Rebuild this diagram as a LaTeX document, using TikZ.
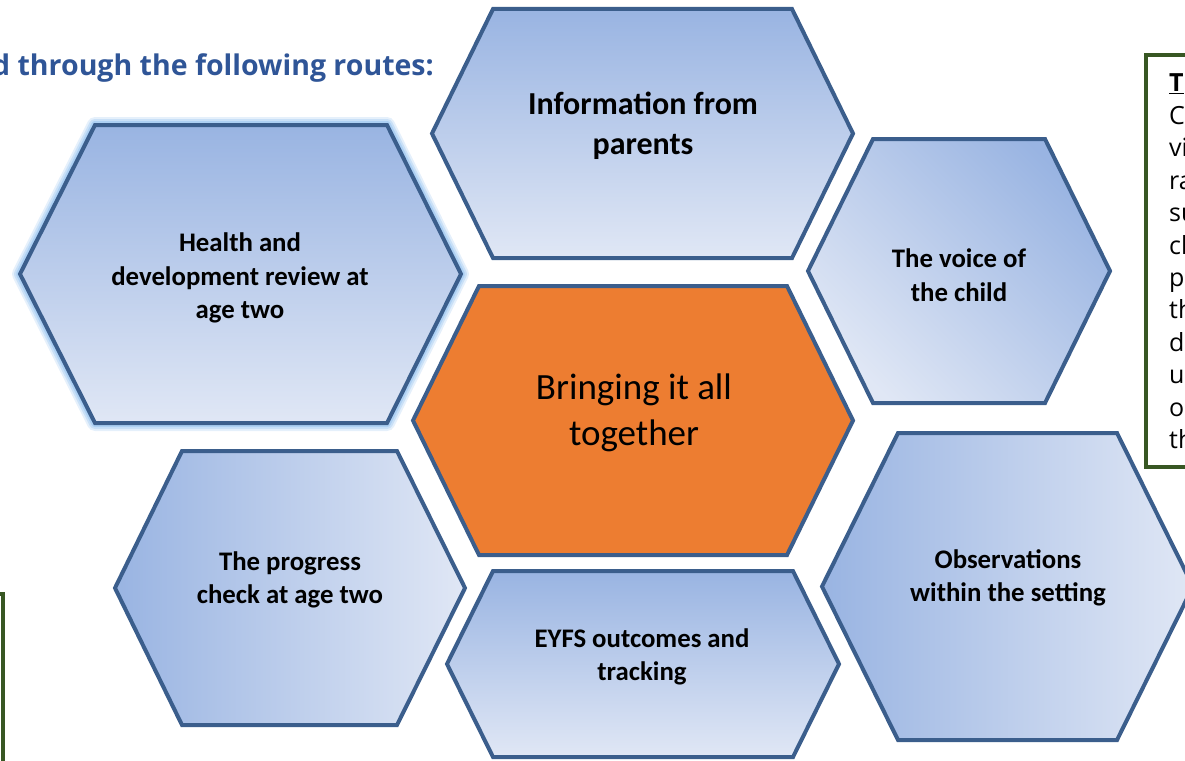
\documentclass[tikz,border=0pt]{standalone}
\usepackage{fontspec}
\newfontfamily\hexfont{Carlito}
\newfontfamily\headfont{Open Sans}
\newfontfamily\notefont{Open Sans}
\definecolor{hexline}{RGB}{59,94,140}
\definecolor{hexdark}{RGB}{153,180,226}
\definecolor{hexlight}{RGB}{224,231,245}
\definecolor{centrefill}{RGB}{237,125,49}
\definecolor{headblue}{RGB}{47,85,151}
\definecolor{boxgreen}{RGB}{56,87,35}
\definecolor{glowblue}{RGB}{150,195,240}

% hexagon with flat top and bottom: style, left x, top-left x, top-right x, right x, top y, bottom y
\newcommand\hexshape[7]{%
  \path[#1] (#2,{(#6+#7)/2}) -- (#3,#6) -- (#4,#6) -- (#5,{(#6+#7)/2})
    -- (#4,#7) -- (#3,#7) -- cycle;}

\begin{document}
\begin{tikzpicture}[x=1pt,y=-1pt,
  hexedge/.style={draw=hexline, line width=4, line join=miter},
  vgrad/.style={hexedge, top color=hexdark, bottom color=hexlight},
  hgrad/.style={hexedge, left color=hexdark, right color=hexlight},
  dgrad/.style={hexedge, top color=hexdark, bottom color=hexlight, shading angle=-45},
  hextext/.style={align=center, text=black, font=\hexfont\bfseries\fontsize{26.8}{33.5}\selectfont},
  bigtext/.style={align=center, text=black, font=\hexfont\bfseries\fontsize{32}{40.5}\selectfont},
  centretext/.style={align=center, text=black, font=\hexfont\fontsize{37}{46}\selectfont},
  noteline/.style={anchor=base west, inner sep=0pt, text=black, font=\notefont\fontsize{25}{28}\selectfont},
  greenbox/.style={draw=boxgreen, line width=4}]

\useasboundingbox (0,0) rectangle (1185,760);
\clip (0,0) rectangle (1185,760);

% heading
\node[anchor=base east, inner sep=0pt, text=headblue,
      font=\headfont\bfseries\fontsize{28.5}{32}\selectfont] (heading) at (434,75)
  {d through the following routes:};

% side boxes
\draw[greenbox] (1146,55) rectangle (1230,467);
\draw[greenbox] (-30,594) rectangle (3,800);

% soft glow behind the health review hexagon
\hexshape{draw=glowblue, line width=16, opacity=0.25, line join=round}{20}{95}{387}{461}{125}{423}
\hexshape{draw=glowblue, line width=12, opacity=0.35, line join=round}{20}{95}{387}{461}{125}{423}
\hexshape{draw=glowblue, line width=8, opacity=0.55, line join=round}{20}{95}{387}{461}{125}{423}

% hexagons
\hexshape{vgrad}{432}{493}{792}{853}{9}{258}
\hexshape{vgrad}{20}{95}{387}{461}{125}{423}
\hexshape{hexedge, fill=centrefill}{413}{479}{787}{853}{286}{555}
\hexshape{dgrad}{808}{873}{1045}{1110}{139}{403}
\hexshape{hgrad}{115}{182}{397}{465}{451}{725}
\hexshape{hgrad}{822}{898}{1117}{1193}{433}{740}
\hexshape{vgrad}{447}{493}{793}{839}{571}{757}

% hexagon labels
\node[bigtext] (info) at (643,126) {Information from\\parents};
\node[hextext] (health) at (240,278) {Health and\\development review at\\age two};
\node[centretext] (centre) at (634,413) {Bringing it all\\together};
\node[hextext] (voice) at (959,275) {The voice of\\the child};
\node[hextext] (progress) at (290,580) {The progress\\check at age two};
\node[hextext] (observe) at (1008,578) {Observations\\within the setting};
\node[hextext] (eyfs) at (642,657) {EYFS outcomes and\\tracking};

% text column in the right-hand box
\node[noteline] (n0) at (1169,92) {\bfseries\underline{T}};
\foreach \t [count=\i] in {C,vi,ra,su,cl,p,th,d,u,o,th}
  \node[noteline] (n\i) at (1169,{92+32.4*\i}) {\t};
\end{tikzpicture}
\end{document}
